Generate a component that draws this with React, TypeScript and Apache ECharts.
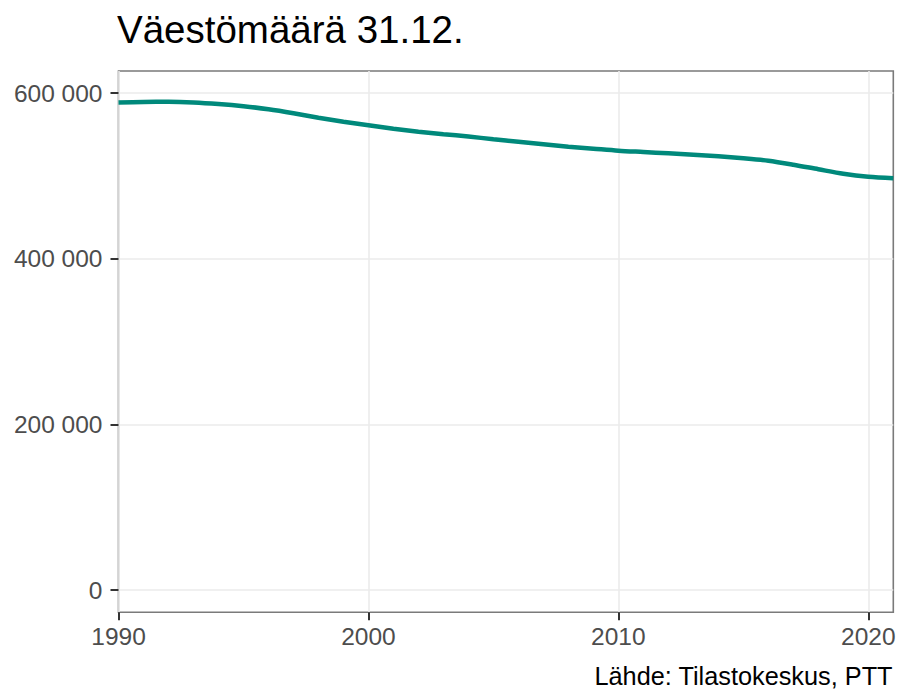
import React, { useEffect, useRef } from "react";
import * as echarts from "echarts";

const years = [1990, 1991, 1992, 1993, 1994, 1995, 1996, 1997, 1998, 1999, 2000, 2001, 2002, 2003, 2004, 2005, 2006, 2007, 2008, 2009, 2010, 2011, 2012, 2013, 2014, 2015, 2016, 2017, 2018, 2019, 2020, 2021];
const population = [588600, 589200, 589500, 588700, 586800, 584100, 580400, 575600, 570200, 565400, 561100, 556900, 553300, 550300, 547500, 544200, 541200, 538200, 535200, 532800, 530400, 528800, 527200, 525500, 523700, 521300, 518300, 513500, 508000, 502600, 499000, 497200];
const yTicks = [0, 200000, 400000, 600000];
const xTicks = [1990, 2000, 2010, 2020];
const titleText = "Väestömäärä 31.12.";
const captionText = "Lähde: Tilastokeskus, PTT";

const FONT = "'Liberation Sans', Arial, sans-serif";

export default function App() {
  const ref = useRef<HTMLDivElement>(null);
  useEffect(() => {
    if (!ref.current) return;
    const chart = echarts.init(ref.current, undefined, { renderer: "svg" });
    chart.setOption({
      animation: false,
      backgroundColor: "#ffffff",
      title: {
        text: titleText,
        left: 112,
        top: 5,
        textStyle: { fontFamily: FONT, fontSize: 38.5, fontWeight: "normal", color: "#000000" },
      },
      graphic: [
        {
          type: "text",
          right: 6,
          bottom: 1,
          style: { text: captionText, fontFamily: FONT, fontSize: 25.3, fill: "#000000" },
        },
      ],
      grid: {
        left: 118.5,
        top: 71,
        right: 5.7,
        bottom: 76.7,
        show: true,
        borderColor: "#7a7a7a",
        borderWidth: 1.6,
        backgroundColor: "transparent",
        containLabel: false,
      },
      xAxis: {
        type: "value",
        min: 1990,
        max: 2021,
        axisLine: { show: false, onZero: false },
        axisTick: { show: true, length: 8, lineStyle: { color: "#333333", width: 2 }, customValues: xTicks },
        axisLabel: {
          customValues: xTicks,
          margin: 12,
          fontFamily: FONT,
          fontSize: 24.5,
          color: "#4d4d4d",
          formatter: (v: number) => String(v),
        },
        splitLine: { show: true, lineStyle: { color: "#ebebeb", width: 1.6 } },
      },
      yAxis: {
        type: "value",
        min: -26900,
        max: 626600,
        axisLine: { show: false, onZero: false },
        axisTick: { show: true, length: 8, lineStyle: { color: "#333333", width: 2 }, customValues: yTicks },
        axisLabel: {
          customValues: yTicks,
          margin: 16,
          fontFamily: FONT,
          fontSize: 24.5,
          color: "#4d4d4d",
          formatter: (v: number) => String(Math.round(v)).replace(/\B(?=(\d{3})+(?!\d))/g, " "),
        },
        splitLine: { show: true, lineStyle: { color: "#ebebeb", width: 1.6 } },
      },
      series: [
        {
          type: "line",
          data: years.map((y, i) => [y, population[i]]),
          smooth: 0.3,
          showSymbol: false,
          lineStyle: { color: "#00897b", width: 4.5 },
          clip: true,
        },
      ],
    });
    return () => chart.dispose();
  }, []);
  return <div ref={ref} style={{ width: 899, height: 689, position: "absolute", left: 0, top: 0 }} />;
}
